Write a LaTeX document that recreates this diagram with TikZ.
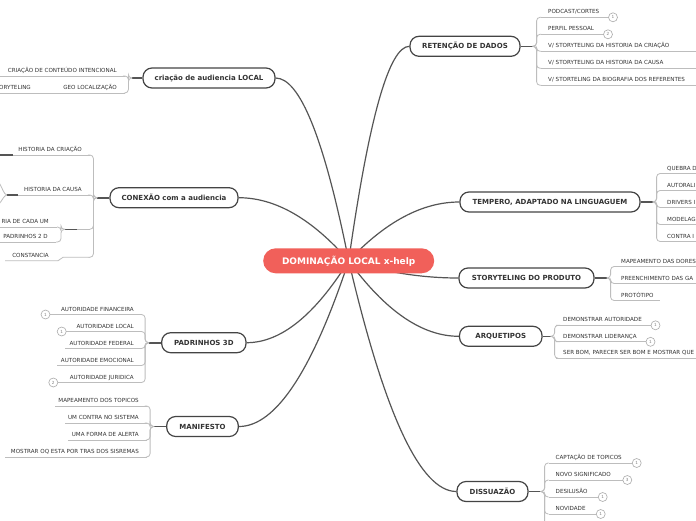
\documentclass[tikz,border=0pt]{standalone}
\usepackage{fontspec}
\setmainfont{DejaVu Sans}
\usetikzlibrary{calc}
\definecolor{txt}{HTML}{333333}
\definecolor{dline}{HTML}{555555}
\definecolor{lline}{HTML}{BDBDBD}
\definecolor{boxline}{HTML}{444444}
\definecolor{rootfill}{HTML}{F1605A}
\definecolor{badgeline}{HTML}{AAAAAA}
\pgfdeclarelayer{bg}
\pgfdeclarelayer{links}
\pgfsetlayers{bg,links,main}
\tikzset{
  leaftext/.style={font=\fontsize{5.6}{6}\selectfont, text=txt, inner sep=0pt},
  uline/.style={draw=lline, line width=0.8pt},
  curvel/.style={draw=lline, line width=0.8pt, rounded corners=3.5pt},
  stubline/.style={draw=dline, line width=1.6pt},
  mainline/.style={draw=dline, line width=1.2pt},
  branch/.style={draw=boxline, fill=white, line width=1.2pt, rounded corners=9pt,
    font=\bfseries\fontsize{7}{8}\selectfont, text=txt, minimum height=20pt, inner sep=0pt},
  rootbox/.style={fill=rootfill, rounded corners=12.5pt, minimum height=25pt, inner sep=0pt,
    font=\bfseries\fontsize{9}{10}\selectfont, text=white},
  badge/.style={circle, draw=badgeline, fill=white, line width=0.6pt, minimum size=9pt,
    inner sep=0pt, font=\fontsize{4.2}{4.2}\selectfont, text=gray}
}
% right leaf: name, from, xstart, yline, xend, text
\newcommand{\RL}[6]{%
  \coordinate (#1) at (#3,#4);
  \coordinate (#1e) at (#5,#4);
  \draw[curvel] (#2) -- ++(4,0) |- (#1);
  \draw[uline] (#1) -- (#1e);
  \node[leaftext, anchor=base west] (#1t) at ($(#1)+(7,-3.5)$) {#6};
}
% left leaf: name, from, xstart(left), yline, xend(right), text
\newcommand{\LL}[6]{%
  \coordinate (#1) at (#5,#4);
  \coordinate (#1s) at (#3,#4);
  \draw[curvel] (#2) -- ++(-4,0) |- (#1);
  \draw[uline] (#1) -- (#1s);
  \node[leaftext, anchor=base east] (#1t) at ($(#1)+(-8,-3.5)$) {#6};
}
\newcommand{\MainLink}[1]{%
  \draw[mainline] let \p1=(cen.center), \p2=(#1) in
  (\p1) .. controls ({\x1+(\x2-\x1)/3},{\y1+2*(\y2-\y1)/3}) and ({\x2-(\x2-\x1)/3},{\y2}) .. (\p2);}
\begin{document}
\begin{tikzpicture}[x=1pt,y=-1pt]
\useasboundingbox (0,0) rectangle (696,520);
\begin{pgfonlayer}{bg}
\fill[white] (0,0) rectangle (696,520);
\end{pgfonlayer}
\clip (0,0) rectangle (696,520);

% root and branches
\node[rootbox, minimum width=171pt] (cen) at (348.7,260.8) {DOMINAÇÃO LOCAL x-help};
\node[branch, minimum width=110pt] (ret) at (465,46.3) {RETENÇÃO DE DADOS};
\node[branch, minimum width=180pt] (tem) at (550,202) {TEMPERO, ADAPTADO NA LINGUAGUEM};
\node[branch, minimum width=135pt] (sto) at (526.5,278) {STORYTELING DO PRODUTO};
\node[branch, minimum width=82.5pt] (arq) at (500.75,336.3) {ARQUETIPOS};
\node[branch, minimum width=71pt] (dis) at (492.5,491.5) {DISSUAZÃO};
\node[branch, minimum width=132pt] (cri) at (209,78) {criação de audiencia LOCAL};
\node[branch, minimum width=128pt] (con) at (174,197.7) {CONEXÃO com a audiencia};
\node[branch, minimum width=84.3pt] (pad) at (203.85,342.7) {PADRINHOS 3D};
\node[branch, minimum width=71.6pt] (man) at (202.5,426.5) {MANIFESTO};

\begin{pgfonlayer}{links}
\clip (0,0) rectangle (696,520);
\MainLink{ret.west}
\MainLink{tem.west}
\MainLink{sto.west}
\MainLink{arq.west}
\MainLink{dis.west}
\MainLink{cri.east}
\MainLink{con.east}
\MainLink{pad.east}
\MainLink{man.east}
\end{pgfonlayer}

% stubs
\draw[stubline] (ret.east) -- ++(12,0) coordinate (retS);
\draw[stubline] (tem.east) -- ++(12,0) coordinate (temS);
\draw[stubline] (sto.east) -- ++(12,0) coordinate (stoS);
\draw[stubline] (arq.east) -- ++(8,0) coordinate (arqS);
\draw[stubline] (dis.east) -- ++(12,0) coordinate (disS);
\draw[stubline] (cri.west) -- ++(-10,0) coordinate (criS);
\draw[stubline] (con.west) -- ++(-12,0) coordinate (conS);
\draw[stubline] (pad.west) -- ++(-12,0) coordinate (padS);
\draw[stubline] (man.west) -- ++(-12,0) coordinate (manS);

% RETENCAO
\RL{r1}{retS}{541}{17.3}{608.5}{PODCAST/CORTES}
\node[badge] (r1b) at (613,17.3) {1};
\RL{r2}{retS}{541}{34.3}{603.5}{PERFIL PESSOAL}
\node[badge] (r2b) at (608,34.3) {2};
\RL{r3}{retS}{541}{51.3}{700}{V/ STORYTELING DA HISTORIA DA CRIAÇÃO}
\RL{r4}{retS}{541}{68.3}{700}{V/ STORYTELING DA HISTORIA DA CAUSA}
\RL{r5}{retS}{541}{85.3}{700}{V/ STORTELING DA BIOGRAFIA DOS REFERENTES}

% TEMPERO
\RL{t1}{temS}{660}{173.5}{700}{QUEBRA D}
\RL{t2}{temS}{660}{190.5}{700}{AUTORALI}
\RL{t3}{temS}{660}{207.5}{700}{DRIVERS I}
\RL{t4}{temS}{660}{224.5}{700}{MODELAG}
\RL{t5}{temS}{660}{241.5}{700}{CONTRA I}

% STORYTELING DO PRODUTO
\RL{s1}{stoS}{614}{266.5}{700}{MAPEAMENTO DAS DORES}
\RL{s2}{stoS}{614}{283.5}{700}{PREENCHIMENTO DAS GA}
\RL{s3}{stoS}{614}{300.5}{660}{PROTÓTIPO}

% ARQUETIPOS
\RL{a1}{arqS}{556}{325.3}{651}{DEMONSTRAR AUTORIDADE}
\node[badge] (a1b) at (655.5,325.3) {1};
\RL{a2}{arqS}{556}{341.8}{646}{DEMONSTRAR LIDERANÇA}
\node[badge] (a2b) at (650.5,341.8) {1};
\RL{a3}{arqS}{556}{358.3}{700}{SER BOM, PARECER SER BOM E MOSTRAR QUE}

% DISSUAZAO
\RL{d1}{disS}{548.5}{463}{632}{CAPTAÇÃO DE TOPICOS}
\node[badge] (d1b) at (636.7,463) {1};
\RL{d2}{disS}{548.5}{480}{622.8}{NOVO SIGNIFICADO}
\node[badge] (d2b) at (627.3,480) {3};
\RL{d3}{disS}{548.5}{497}{598.2}{DESILUSÃO}
\node[badge] (d3b) at (602.7,497) {1};
\RL{d4}{disS}{548.5}{514}{596.2}{NOVIDADE}
\node[badge] (d4b) at (600.7,514) {1};
\coordinate (d5) at (548.5,531);
\draw[curvel] (disS) -- ++(4,0) |- (d5);

% criacao de audiencia
\LL{c1}{criS}{0}{76}{125}{CRIAÇÃO DE CONTEÚDO INTENCIONAL}
\LL{c2}{criS}{0}{93}{125}{GEO LOCALIZAÇÃO}
\node[leaftext, anchor=base east] (c2x) at (31,89.5) {ORYTELING};

% CONEXAO
\LL{k1}{conS}{13}{155}{90}{HISTORIA DA CRIAÇÃO}
\draw[stubline] (k1s) -- ++(-14,0) coordinate (k1f);
\LL{k2}{conS}{18}{195}{90}{HISTORIA DA CAUSA}
\draw[stubline] (k2s) -- ++(-11,0) coordinate (k2f);
\coordinate (k2a) at (-1,182.5);
\coordinate (k2b) at (-1,204);
\draw[uline] (k2f) .. controls (4,195) and (2,187) .. (k2a);
\draw[uline] (k2f) .. controls (4,195) and (2,201) .. (k2b);
\coordinate (k3) at (90,229.3);
\coordinate (k3s) at (77,229.3);
\draw[curvel] (conS) -- ++(-4,0) |- (k3);
\draw[uline] (k3) -- (k3s);
\draw[stubline] (k3s) -- ++(-12,0) coordinate (k3S);
\LL{k3a}{k3S}{0}{227}{57}{RIA DE CADA UM}
\LL{k3b}{k3S}{0}{242}{56}{PADRINHOS 2 D}
\coordinate (k4) at (90,257.3);
\coordinate (k4m) at (63,257.3);
\coordinate (k4n) at (58,260.7);
\coordinate (k4s) at (5,260.7);
\draw[curvel] (conS) -- ++(-4,0) |- (k4);
\draw[uline] (k4) -- (k4m) .. controls (60.5,257.3) and (60.5,260.7) .. (k4n) -- (k4s);
\node[leaftext, anchor=base east] (k4t) at (49,257.2) {CONSTANCIA};

% PADRINHOS 3D
\LL{p1}{padS}{50}{314.5}{142}{AUTORIDADE FINANCEIRA}
\node[badge] (p1b) at (45.5,314.5) {1};
\LL{p2}{padS}{66.2}{331.5}{142}{AUTORIDADE LOCAL}
\node[badge] (p2b) at (61.7,331.5) {1};
\LL{p3}{padS}{65}{348.5}{142}{AUTORIDADE FEDERAL}
\LL{p4}{padS}{57}{365.5}{142}{AUTORIDADE EMOCIONAL}
\LL{p5}{padS}{57.8}{382.5}{142}{AUTORIDADE JURIDICA}
\node[badge] (p5b) at (53.3,382.5) {2};

% MANIFESTO
\LL{m1}{manS}{55}{406}{147}{MAPEAMENTO DOS TOPICOS}
\LL{m2}{manS}{65}{423}{147}{UM CONTRA NO SISTEMA}
\LL{m3}{manS}{68}{440}{147}{UMA FORMA DE ALERTA}
\LL{m4}{manS}{5}{457}{147}{MOSTRAR OQ ESTA POR TRAS DOS SISREMAS}
\end{tikzpicture}
\end{document}
